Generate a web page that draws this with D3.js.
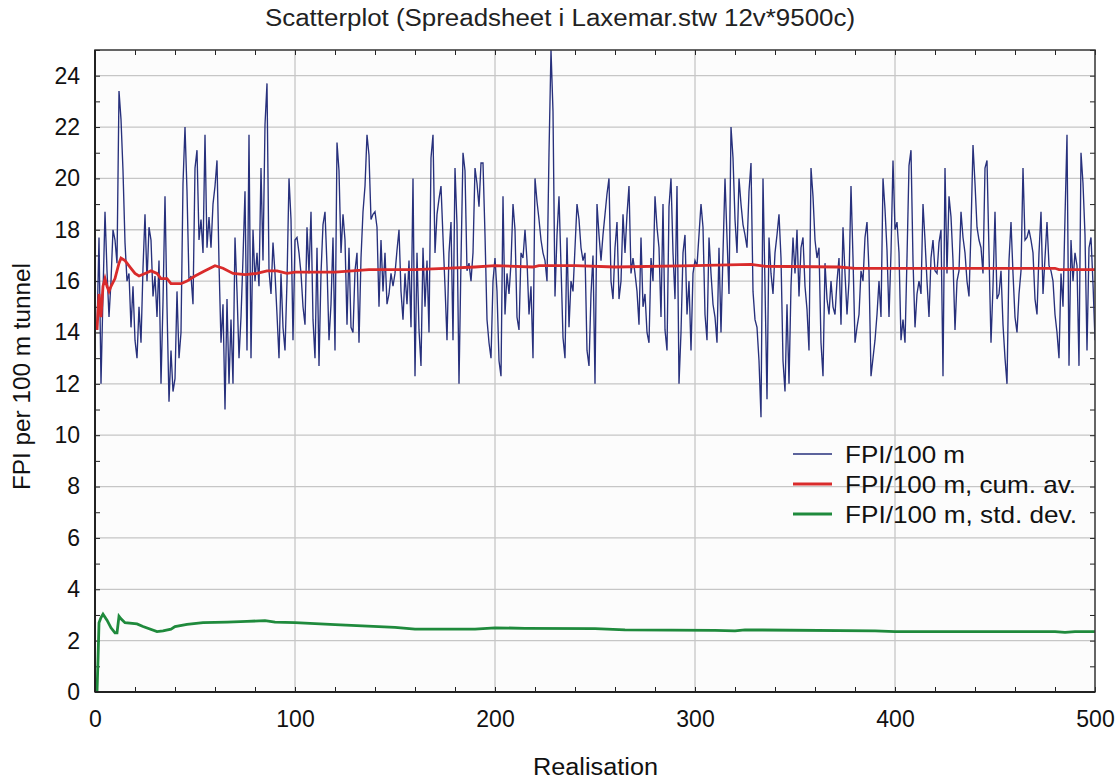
<!DOCTYPE html>
<html><head><meta charset="utf-8">
<script src="https://cdn.jsdelivr.net/npm/d3@7"></script>
<style>
html,body{margin:0;padding:0;background:#fff;}
svg{display:block;}
text{font-family:"Liberation Sans",Arial,sans-serif;fill:#111;}
</style></head>
<body>
<svg id="chart" width="1117" height="779"></svg>
<script>
// FPI per 100 m for realisations 1..500
const fpi = [
14.1,17.7,12.0,15.5,18.7,16.4,14.6,16.0,18.0,17.6,
16.7,23.4,22.3,20.3,17.5,16.0,16.3,14.2,15.8,13.7,
13.0,15.0,13.6,16.5,18.6,16.0,18.1,17.6,15.4,16.2,
14.6,16.8,12.0,15.2,19.3,15.0,11.3,13.3,11.7,12.2,
15.6,13.0,14.0,19.8,22.0,19.5,16.0,16.2,15.1,20.4,
21.1,17.6,18.4,17.1,21.7,17.3,18.5,17.3,19.0,19.7,
20.7,16.7,13.6,15.1,11.0,15.3,12.0,14.5,12.0,17.7,
15.6,13.0,14.6,16.9,19.5,13.3,21.7,13.0,18.0,16.0,
17.1,15.8,20.4,16.8,22.1,23.7,16.4,15.5,17.5,16.3,
14.7,13.0,16.3,14.2,13.3,16.0,20.0,18.4,13.7,17.6,
17.7,17.1,16.3,15.0,14.3,18.1,16.3,18.7,14.5,13.0,
17.3,12.7,16.3,18.2,18.7,16.6,13.7,15.1,17.7,13.3,
21.4,20.3,17.1,18.6,17.6,14.3,17.3,14.2,14.0,16.4,
17.1,13.6,16.9,18.7,19.7,21.7,20.9,18.4,18.6,18.7,
18.1,15.0,17.6,15.6,17.1,15.1,15.5,16.3,15.8,16.3,
17.2,18.0,15.6,14.5,16.3,15.1,16.8,14.2,20.0,12.3,
17.1,14.1,12.7,17.3,15.0,16.8,14.0,20.8,21.7,17.1,
18.6,19.2,19.7,17.7,15.8,13.7,17.1,18.3,13.7,20.4,
18.2,12.0,16.8,21.0,20.3,16.4,16.7,16.0,17.1,20.4,
19.8,18.9,20.6,20.6,17.8,14.5,13.6,13.0,16.0,16.9,
15.6,12.9,12.3,19.3,14.7,16.3,15.5,16.7,19.0,18.0,
14.6,14.1,17.1,16.9,18.0,16.8,14.7,15.8,13.0,20.0,
19.1,18.4,17.6,17.1,16.8,16.0,21.0,25.0,22.6,15.4,
17.8,19.3,16.6,13.8,13.0,17.7,14.2,16.0,15.6,17.3,
19.0,18.4,17.3,16.8,17.1,13.3,12.7,15.5,17.0,12.0,
19.0,17.8,16.8,17.8,18.6,19.4,20.0,16.0,15.3,17.3,
18.3,15.3,16.0,18.6,17.1,18.6,19.7,16.3,16.9,16.3,
15.6,14.3,17.7,15.0,15.5,14.0,13.6,16.9,16.0,19.3,
18.1,17.3,14.6,19.0,14.1,13.3,18.9,20.0,17.1,15.3,
19.7,12.0,14.0,17.1,17.8,14.7,16.0,13.3,16.3,16.8,
16.6,17.8,19.0,18.1,14.7,13.7,17.7,16.3,15.1,14.6,
13.6,17.3,14.0,17.1,20.0,17.7,15.5,22.0,20.8,18.4,
17.1,20.0,19.0,18.2,17.8,17.3,19.5,20.6,15.6,14.5,
14.2,12.9,10.7,20.0,15.8,11.4,17.7,16.3,15.5,17.1,
17.8,18.6,16.9,12.9,11.7,15.1,12.0,15.8,17.7,16.3,
18.0,15.4,17.3,17.7,15.8,14.9,13.3,20.4,19.3,17.6,
16.9,17.3,13.6,12.3,16.7,15.3,14.7,16.0,15.0,14.7,
16.0,16.9,14.3,18.1,16.3,14.7,16.0,19.7,16.9,13.6,
14.2,14.7,16.4,16.0,17.7,18.3,16.4,12.3,13.0,13.7,
14.7,16.0,14.6,20.0,18.8,17.2,14.6,17.1,20.7,18.0,
18.3,17.1,13.7,14.5,13.6,16.9,20.5,21.1,16.8,14.2,
15.5,16.0,15.5,19.0,17.6,16.0,14.6,16.9,17.6,16.4,
16.3,17.5,18.0,12.3,20.4,16.3,19.3,18.5,16.8,14.1,
16.0,16.4,18.7,17.7,17.1,16.0,15.4,18.0,21.3,19.8,
18.1,17.6,17.3,16.3,20.4,20.7,17.1,13.6,15.8,18.7,
15.3,15.5,16.4,14.3,13.0,12.0,16.8,18.3,16.3,14.6,
14.0,15.5,16.4,20.4,17.6,17.7,18.0,17.6,17.1,15.3,
14.7,17.1,18.7,15.5,16.9,18.3,16.6,16.4,16.0,14.7,
14.0,13.0,16.3,15.0,18.5,21.7,12.7,17.6,16.0,17.1,
16.6,12.7,21.0,19.8,17.8,13.3,17.3,17.7,15.9,13.7
];

// cumulative average, read as [realisation, value] from the picture
const cumAv = [
[1,14.1],[2,15.5],[3,14.6],[4,15.8],[5,16.1],[6,15.8],[7,15.6],[8,15.8],[10,16.1],
[12,16.7],[13,16.9],[15,16.8],[18,16.5],[20,16.3],[22,16.2],[25,16.3],[28,16.4],
[31,16.3],[33,16.1],[36,16.1],[38,15.9],[41,15.9],[43,15.9],[46,16.0],[50,16.2],
[55,16.4],[60,16.6],[64,16.5],[69,16.3],[75,16.25],[81,16.3],[86,16.4],[91,16.4],
[96,16.3],[100,16.35],[120,16.35],[137,16.45],[150,16.45],[160,16.45],[175,16.5],
[190,16.55],[200,16.6],[219,16.55],[222,16.6],[240,16.6],[260,16.55],[300,16.6],
[328,16.65],[335,16.58],[372,16.55],[380,16.5],[430,16.5],[480,16.5],[482,16.45],[500,16.45]
];

// cumulative standard deviation, read as [realisation, value]
const stdDev = [
[1,0],[1.5,1.25],[2,2.7],[3,2.9],[4,3.03],[6,2.8],[8,2.5],[10,2.3],[11,2.3],[12,2.95],
[13,2.85],[15,2.7],[21,2.65],[24,2.55],[31,2.35],[34,2.38],[38,2.45],[40,2.55],[46,2.63],
[54,2.7],[66,2.72],[76,2.75],[85,2.78],[90,2.72],[100,2.7],[120,2.62],[150,2.52],[160,2.45],
[190,2.45],[200,2.5],[215,2.48],[250,2.47],[265,2.42],[310,2.4],[320,2.38],[325,2.42],
[390,2.38],[400,2.35],[480,2.35],[485,2.32],[490,2.35],[500,2.35]
];

const xTicks = [0,100,200,300,400,500];
const yTicks = [0,2,4,6,8,10,12,14,16,18,20,22,24];
const seriesNames = ["FPI/100 m","FPI/100 m, cum. av.","FPI/100 m, std. dev."];
const seriesColors = ["#27307c","#d92b2b","#1f8a3c"];

const svg = d3.select("#chart");
const L=95, R=1095, T=50, B=692;
const x = d3.scaleLinear().domain([0,500]).range([L,R]);
const y = d3.scaleLinear().domain([0,25]).range([B,T]);
const FONT = "'Liberation Sans',Arial,sans-serif";

// plot background
svg.append("rect").attr("x",L).attr("y",T).attr("width",R-L).attr("height",B-T).attr("fill","#fcfcfc");

// grid
svg.append("g").selectAll("line").data(yTicks.filter(d=>d>0)).join("line")
  .attr("x1",L).attr("x2",R).attr("y1",d=>y(d)).attr("y2",d=>y(d))
  .attr("stroke","#c6c6c6").attr("stroke-width",1.3);
svg.append("g").selectAll("line").data(xTicks.filter(d=>d>0&&d<500)).join("line")
  .attr("y1",T).attr("y2",B).attr("x1",d=>x(d)).attr("x2",d=>x(d))
  .attr("stroke","#c6c6c6").attr("stroke-width",1.3);

// axes with inward ticks
const minorY = d3.range(0,26,1);
const minorX = d3.range(0,501,20);
svg.append("g").attr("transform",`translate(${L},0)`)
  .call(d3.axisRight(y).tickValues(minorY).tickSize(5).tickFormat(""))
  .call(g=>g.select(".domain").remove()).selectAll("line").attr("stroke","#222");
svg.append("g").attr("transform",`translate(${R},0)`)
  .call(d3.axisLeft(y).tickValues(minorY).tickSize(5).tickFormat(""))
  .call(g=>g.select(".domain").remove()).selectAll("line").attr("stroke","#222");
svg.append("g").attr("transform",`translate(0,${T})`)
  .call(d3.axisBottom(x).tickValues(minorX).tickSize(5).tickFormat(""))
  .call(g=>g.select(".domain").remove()).selectAll("line").attr("stroke","#222");
svg.append("g").attr("transform",`translate(0,${B})`)
  .call(d3.axisTop(x).tickValues(minorX).tickSize(5).tickFormat(""))
  .call(g=>g.select(".domain").remove()).selectAll("line").attr("stroke","#222");

// tick labels via axes
const yAx = svg.append("g").attr("transform",`translate(${L},0)`)
  .call(d3.axisLeft(y).tickValues(yTicks).tickSize(0).tickPadding(15));
yAx.select(".domain").remove();
yAx.selectAll("text").style("font-size","23px").style("fill","#111").style("font-family",FONT);
const xAx = svg.append("g").attr("transform",`translate(0,${B})`)
  .call(d3.axisBottom(x).tickValues(xTicks).tickSize(0).tickPadding(19));
xAx.select(".domain").remove();
xAx.selectAll("text").style("font-size","23px").style("fill","#111").style("font-family",FONT);

// lines
svg.append("clipPath").attr("id","pc").append("rect")
  .attr("x",L).attr("y",T).attr("width",R-L).attr("height",B-T);
const gL = svg.append("g").attr("clip-path","url(#pc)");
const line = d3.line().x(d=>x(d[0])).y(d=>y(d[1]));
gL.append("path").datum(fpi.map((v,i)=>[i+1,v])).attr("d",line)
  .attr("fill","none").attr("stroke",seriesColors[0]).attr("stroke-width",1.35);
gL.append("path").datum(cumAv).attr("d",line)
  .attr("fill","none").attr("stroke",seriesColors[1]).attr("stroke-width",2.8);
gL.append("path").datum(stdDev).attr("d",line)
  .attr("fill","none").attr("stroke",seriesColors[2]).attr("stroke-width",2.8);

// frame
svg.append("rect").attr("x",L).attr("y",T).attr("width",R-L).attr("height",B-T)
  .attr("fill","none").attr("stroke","#333").attr("stroke-width",1.5);
svg.append("line").attr("x1",L).attr("x2",L).attr("y1",T).attr("y2",B).attr("stroke","#222").attr("stroke-width",2);
svg.append("line").attr("x1",L).attr("x2",R).attr("y1",B).attr("y2",B).attr("stroke","#222").attr("stroke-width",2);

// legend
const legendLens = [120,231,232];
const lg = svg.append("g");
seriesNames.forEach((n,i)=>{
  const yy = 454 + i*30;
  lg.append("line").attr("x1",793).attr("x2",832).attr("y1",yy).attr("y2",yy)
    .attr("stroke",seriesColors[i]).attr("stroke-width",i===0?1.35:2.8);
  lg.append("text").attr("x",845).attr("y",yy+9).text(n).style("font-size","24px")
    .attr("textLength",legendLens[i]).attr("lengthAdjust","spacingAndGlyphs");
});

// titles
svg.append("text").attr("x",265).attr("y",26)
  .attr("textLength",590).attr("lengthAdjust","spacingAndGlyphs")
  .style("font-size","23px").style("fill","#222").text("Scatterplot (Spreadsheet i Laxemar.stw 12v*9500c)");
svg.append("text").attr("x",533).attr("y",775)
  .attr("textLength",125).attr("lengthAdjust","spacingAndGlyphs")
  .style("font-size","23px").text("Realisation");
svg.append("text").attr("transform","translate(30,490) rotate(-90)")
  .attr("textLength",227).attr("lengthAdjust","spacingAndGlyphs")
  .style("font-size","23px").text("FPI per 100 m tunnel");
</script>
</body></html>
